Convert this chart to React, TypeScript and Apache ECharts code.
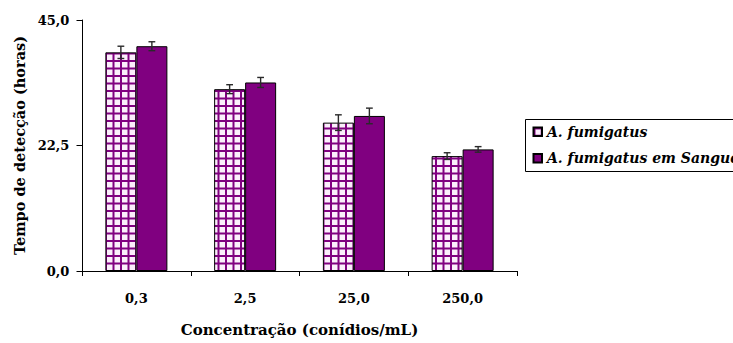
import React, { useEffect, useRef } from "react";
import * as echarts from "echarts";

// Detection time (hours) per conidia concentration
const categories = ["0,3", "2,5", "25,0", "250,0"];
const seriesNames = ["A. fumigatus", "A. fumigatus em Sangue"];
const fumigatus = [39.2, 32.6, 26.6, 20.6];
const fumigatusErr = [1.1, 0.8, 1.4, 0.6];
const sangue = [40.3, 33.8, 27.8, 21.8];
const sangueErr = [0.8, 0.9, 1.4, 0.5];
const yTicks = [0, 22.5, 45];
const xTitle = "Concentração (conídios/mL)";
const yTitle = "Tempo de detecção (horas)";

const FONT = "DejaVu Serif";
const PURPLE = "#800080";
const BAR_WIDTH = 31;

function makeCheckerTile(): HTMLCanvasElement {
  const c = document.createElement("canvas");
  c.width = 15;
  c.height = 15;
  const ctx = c.getContext("2d")!;
  ctx.fillStyle = "#fbeefb";
  ctx.fillRect(0, 0, 15, 15);
  ctx.fillStyle = PURPLE;
  ctx.fillRect(0, 0, 2, 15);
  ctx.fillRect(7.5, 0, 2, 15);
  ctx.fillRect(0, 0, 15, 2);
  ctx.fillRect(0, 7.5, 15, 2);
  return c;
}

export default function App() {
  const ref = useRef<HTMLDivElement>(null);

  useEffect(() => {
    if (!ref.current) return;
    const chart = echarts.init(ref.current, null, { renderer: "svg" });
    const checker = { image: makeCheckerTile(), repeat: "repeat" } as any;

    const errData = (vals: number[], errs: number[], off: number) =>
      vals.map((v, i) => [i, v, errs[i], off]);

    // Whiskers with caps, centred on each bar
    const errorSeries = (data: number[][]) => ({
      type: "custom",
      silent: true,
      z: 10,
      renderItem: (_params: any, api: any) => {
        const idx = api.value(0);
        const v = api.value(1);
        const e = api.value(2);
        const off = api.value(3);
        const top = api.coord([idx, v + e]);
        const bot = api.coord([idx, v - e]);
        const x = top[0] + off;
        const cap = 3.4;
        const style = { stroke: "#2a2a2a", lineWidth: 1.4 };
        return {
          type: "group",
          children: [
            { type: "line", shape: { x1: x, y1: top[1], x2: x, y2: bot[1] }, style },
            { type: "line", shape: { x1: x - cap, y1: top[1], x2: x + cap, y2: top[1] }, style },
            { type: "line", shape: { x1: x - cap, y1: bot[1], x2: x + cap, y2: bot[1] }, style },
          ],
        };
      },
      data,
    });

    chart.setOption({
      animation: false,
      backgroundColor: "#ffffff",
      textStyle: { fontFamily: FONT, fontWeight: "bold", color: "#000" },
      grid: { left: 82, right: 216, top: 20, bottom: 72, containLabel: false, outerBoundsMode: "none" },
      legend: {
        data: seriesNames,
        orient: "vertical",
        left: 532.5,
        top: 122.7,
        icon: "rect",
        itemWidth: 8.5,
        itemHeight: 8.5,
        itemGap: 8.5,
        padding: 0,
        textStyle: {
          fontFamily: FONT,
          fontWeight: "bold",
          fontStyle: "italic",
          fontSize: 14,
          lineHeight: 18,
          color: "#000",
        },
      },
      graphic: [
        {
          type: "rect",
          silent: true,
          shape: { x: 525.5, y: 119.5, width: 220, height: 52 },
          style: { fill: "none", stroke: "#000", lineWidth: 1 },
        },
      ],
      xAxis: {
        type: "category",
        data: categories,
        boundaryGap: true,
        axisLine: { lineStyle: { color: "#000", width: 1 } },
        axisTick: { show: true, length: 5, alignWithLabel: false, lineStyle: { color: "#000" } },
        axisLabel: { fontFamily: FONT, fontWeight: "bold", fontSize: 13, color: "#000", margin: 20.5 },
        name: xTitle,
        nameLocation: "middle",
        nameGap: 51,
        nameTextStyle: { fontFamily: FONT, fontWeight: "bold", fontSize: 15, color: "#000" },
      },
      yAxis: {
        type: "value",
        min: yTicks[0],
        max: yTicks[yTicks.length - 1],
        interval: yTicks[1] - yTicks[0],
        splitLine: { show: false },
        axisLine: { show: true, lineStyle: { color: "#000", width: 1 } },
        axisTick: { show: true, length: 5.5, lineStyle: { color: "#000" } },
        axisLabel: {
          fontFamily: FONT,
          fontWeight: "bold",
          fontSize: 13,
          color: "#000",
          margin: 12.7,
          formatter: (v: number) => v.toFixed(1).replace(".", ","),
        },
        name: yTitle,
        nameLocation: "middle",
        nameGap: 55,
        nameTextStyle: { fontFamily: FONT, fontWeight: "bold", fontSize: 14.5, color: "#000" },
      },
      series: [
        {
          name: seriesNames[0],
          type: "bar",
          data: fumigatus,
          barWidth: BAR_WIDTH,
          barGap: "0%",
          itemStyle: { color: checker, borderColor: "#000", borderWidth: 1 },
        },
        {
          name: seriesNames[1],
          type: "bar",
          data: sangue,
          barWidth: BAR_WIDTH,
          barGap: "0%",
          itemStyle: { color: PURPLE, borderColor: "#000", borderWidth: 1 },
        },
        errorSeries(errData(fumigatus, fumigatusErr, -BAR_WIDTH / 2)),
        errorSeries(errData(sangue, sangueErr, BAR_WIDTH / 2)),
      ],
    });

    return () => chart.dispose();
  }, []);

  return <div ref={ref} style={{ width: 733, height: 343, position: "absolute", left: 0, top: 0 }} />;
}
